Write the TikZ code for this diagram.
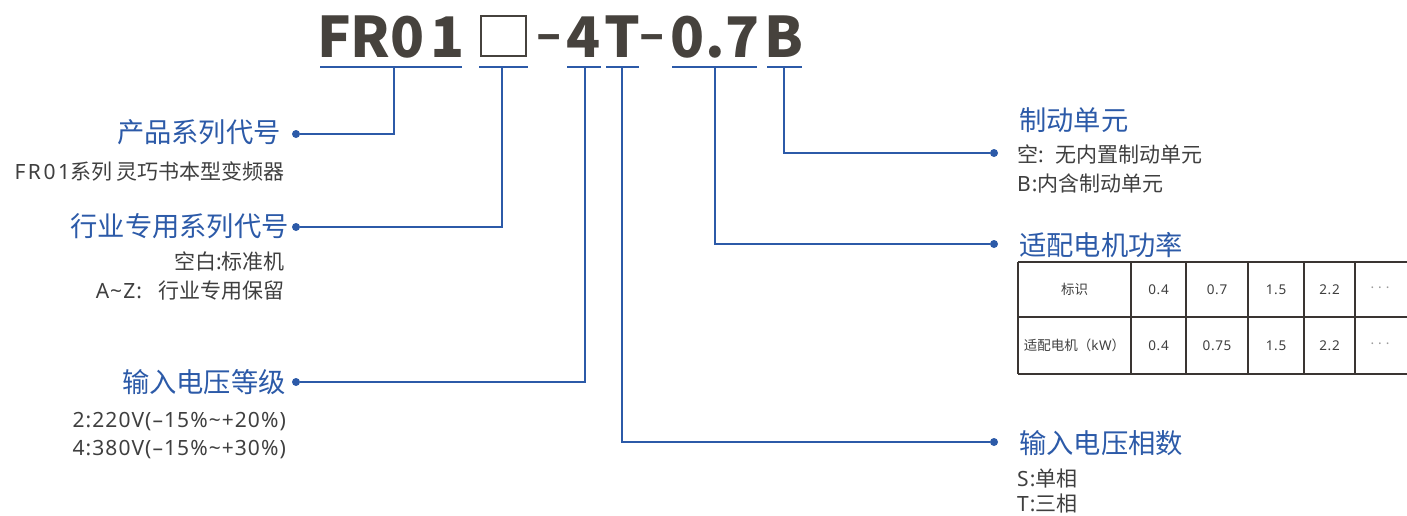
\documentclass[tikz,border=0pt]{standalone}
\usepackage{fontspec}
\setmainfont{Noto Sans CJK SC}
\newfontfamily\latinfont{Noto Sans}[LetterSpace=5]
\usetikzlibrary{positioning}

\definecolor{codeblue}{HTML}{2C5AA8}
\definecolor{codegray}{HTML}{46423D}
\definecolor{notegray}{HTML}{3F3F3F}
\definecolor{gridgray}{HTML}{3A3532}
\definecolor{dotgray}{HTML}{9A9A9A}

\tikzset{
    codechar/.style={font=\fontsize{56}{56}\selectfont\bfseries, text=codegray, inner sep=0pt, anchor=base},
    codedash/.style={font=\fontsize{46}{46}\selectfont\bfseries, text=codegray, inner sep=0pt, anchor=base},
    fieldname/.style={font=\fontsize{27.3}{27.3}\selectfont, text=codeblue, inner sep=0pt},
    fieldnote/.style={font=\fontsize{21}{21}\selectfont, text=notegray, inner sep=0pt},
    cellnote/.style={font=\fontsize{13.5}{13.5}\selectfont, text=notegray, inner sep=0pt},
    link/.style={codeblue, line width=2pt},
    grid/.style={gridgray, line width=1.6pt},
    dotend/.style={circle, fill=codeblue, inner sep=0pt, minimum size=8pt},
}

\begin{document}
\begin{tikzpicture}[x=1pt, y=-1pt]
    \useasboundingbox (0,0) rectangle (1407,515);
    % draw the model code
    \foreach \ch/\cx [count=\i] in {F/334, R/370, 0/408, 1/448, 4/584, T/622, 0/688, ./715, 7/743, B/784}
        \node[codechar] (code\i) at (\cx,57) {\ch};
    \node[codedash] (dash1) at (549,50) {\makebox[18pt]{–}};
    \node[codedash] (dash2) at (652,50) {\makebox[18pt]{–}};
    \node[draw=codegray, line width=2pt, minimum width=45pt, minimum height=40pt, inner sep=0pt] (slot) at (503.5,36) {};
    % draw the underlines
    \draw[link] (320,67) -- (462,67);
    \draw[link] (479,67) -- (528,67);
    \draw[link] (567,67) -- (601,67);
    \draw[link] (606,67) -- (639,67);
    \draw[link] (672,67) -- (757,67);
    \draw[link] (767,67) -- (802,67);
    % define the taps
    \coordinate (tapseries) at (394,67);
    \coordinate (tapslot) at (502,67);
    \coordinate (tapvolt) at (584.5,67);
    \coordinate (tapphase) at (622,67);
    \coordinate (tappower) at (715,67);
    \coordinate (tapbrake) at (783.5,67);
    % draw the end dots
    \node[dotend] (dotseries) at (296,134) {};
    \node[dotend] (dotslot) at (296,227) {};
    \node[dotend] (dotvolt) at (296,382) {};
    \node[dotend] (dotbrake) at (994,153) {};
    \node[dotend] (dotpower) at (994,244) {};
    \node[dotend] (dotphase) at (994,442) {};
    % draw the connectors
    \draw[link] (tapseries) |- (dotseries);
    \draw[link] (tapslot) |- (dotslot);
    \draw[link] (tapvolt) |- (dotvolt);
    \draw[link] (tapbrake) |- (dotbrake);
    \draw[link] (tappower) |- (dotpower);
    \draw[link] (tapphase) |- (dotphase);
    % left labels
    \node[fieldname, anchor=base east] (seriesname) at (281,142) {产品系列代号};
    \node[fieldnote, anchor=base east] (seriesnote) at (285,179.5) {{\latinfont\addfontfeatures{LetterSpace=12}FR01}系列 灵巧书本型变频器};
    \node[fieldname, anchor=base east] (slotname) at (289,236.5) {行业专用系列代号};
    \node[fieldnote, anchor=base east] (slotnote1) at (285,269.5) {空白{\latinfont :}标准机};
    \node[fieldnote, anchor=base east] (slotnote2) at (285,298.5) {{\latinfont A\textasciitilde Z:}\hspace{0.8em}行业专用保留};
    \node[fieldname, anchor=base east] (voltname) at (286,392.5) {输入电压等级};
    \node[fieldnote, anchor=base east, font=\latinfont\fontsize{21}{21}\selectfont] (voltnote1) at (286,427.5) {2:220V(–15\%\textasciitilde+20\%)};
    \node[fieldnote, anchor=base east, font=\latinfont\fontsize{21}{21}\selectfont] (voltnote2) at (286,455) {4:380V(–15\%\textasciitilde+30\%)};
    % right labels
    \node[fieldname, anchor=base west] (brakename) at (1019,130) {制动单元};
    \node[fieldnote, anchor=base west] (brakenote1) at (1017,162) {空{\latinfont :}\hspace{0.55em}无内置制动单元};
    \node[fieldnote, anchor=base west] (brakenote2) at (1017,191.5) {{\latinfont B:}内含制动单元};
    \node[fieldname, anchor=base west] (powername) at (1019,255) {适配电机功率};
    \node[fieldname, anchor=base west] (phasename) at (1019,453) {输入电压相数};
    \node[fieldnote, anchor=base west] (phasenote1) at (1017,486.5) {{\latinfont S:}单相};
    \node[fieldnote, anchor=base west] (phasenote2) at (1017,511.5) {{\latinfont T:}三相};
    % draw the table
    \draw[grid] (1018,262) -- (1407,262);
    \draw[grid] (1018,317) -- (1407,317);
    \draw[grid] (1018,374) -- (1407,374);
    \foreach \gx in {1018,1131,1186,1248,1304,1355}
        \draw[grid] (\gx,262) -- (\gx,374);
    \node[cellnote] (headkey) at (1074.5,289.5) {标识};
    \foreach \v/\cx [count=\i] in {0.4/1158.5, 0.7/1217, 1.5/1276, 2.2/1329.5}
        \node[cellnote, font=\latinfont\fontsize{13.5}{13.5}\selectfont] (head\i) at (\cx,289.5) {\v};
    \node[cellnote, text=dotgray, font=\latinfont\fontsize{13.5}{13.5}\selectfont] (headmore) at (1380,289.5) {·\hspace{4pt}·\hspace{4pt}·};
    \node[cellnote] (rowkey) at (1074.5,345.5) {适配电机（{\latinfont kW}）};
    \foreach \v/\cx [count=\i] in {0.4/1158.5, 0.75/1217, 1.5/1276, 2.2/1329.5}
        \node[cellnote, font=\latinfont\fontsize{13.5}{13.5}\selectfont] (row\i) at (\cx,345.5) {\v};
    \node[cellnote, text=dotgray, font=\latinfont\fontsize{13.5}{13.5}\selectfont] (rowmore) at (1380,345.5) {·\hspace{4pt}·\hspace{4pt}·};
\end{tikzpicture}
\end{document}
